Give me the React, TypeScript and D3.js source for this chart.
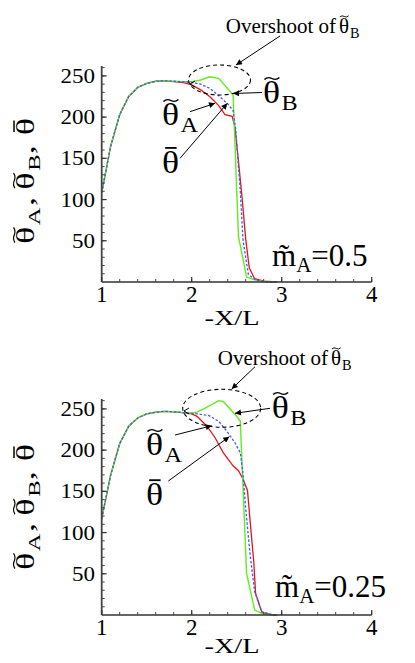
import * as d3 from "d3";

type Pt = [number, number];

// x = -X/L, y = temperature
const xTicks = [1, 2, 3, 4];
const yTicks = [50, 100, 150, 200, 250];

// upper panel, m_A = 0.5
const topThetaA: Pt[] = [
  [1.0, 108], [1.1, 165], [1.2, 203], [1.3, 225], [1.4, 236], [1.5, 241], [1.6, 243.5],
  [1.7, 244], [1.8, 243], [1.9, 242], [2.0, 239], [2.1, 233], [2.2, 225], [2.3, 214],
  [2.37, 203], [2.45, 201], [2.48, 188], [2.52, 146], [2.56, 102], [2.6, 52], [2.64, 17],
  [2.7, 4], [2.8, 1], [2.95, 0],
];
const topThetaB: Pt[] = [
  [1.0, 108], [1.1, 165], [1.2, 203], [1.3, 225], [1.4, 236], [1.5, 241], [1.6, 243.5],
  [1.7, 244], [1.8, 243.5], [1.9, 243], [2.0, 243], [2.1, 245], [2.2, 249], [2.3, 247],
  [2.46, 227], [2.52, 55], [2.61, 6], [2.72, 2], [2.85, 0], [2.95, 0],
];
const topThetaBar: Pt[] = [
  [1.0, 108], [1.1, 165], [1.2, 203], [1.3, 225], [1.4, 236], [1.5, 241], [1.6, 243.5],
  [1.7, 244], [1.8, 243.5], [1.9, 243], [2.0, 242], [2.1, 240], [2.2, 235], [2.3, 226],
  [2.4, 216], [2.46, 208], [2.49, 184], [2.54, 110], [2.57, 51], [2.63, 9], [2.72, 2],
  [2.85, 0], [2.95, 0],
];

// lower panel, m_A = 0.25
const botThetaA: Pt[] = [
  [1.0, 117], [1.1, 170], [1.2, 208], [1.3, 229], [1.4, 239], [1.5, 244], [1.6, 246],
  [1.7, 247], [1.8, 246.5], [1.9, 245.5], [2.0, 244], [2.06, 241], [2.17, 229], [2.26, 215],
  [2.35, 197], [2.46, 181], [2.52, 175], [2.57, 165], [2.62, 151], [2.65, 113], [2.69, 64],
  [2.71, 26], [2.78, 3], [2.9, 0], [2.95, 0],
];
const botThetaB: Pt[] = [
  [1.0, 117], [1.1, 170], [1.2, 208], [1.3, 229], [1.4, 239], [1.5, 244], [1.6, 246],
  [1.7, 247], [1.8, 246.5], [1.9, 245.5], [2.0, 245], [2.06, 246], [2.15, 251], [2.3, 260],
  [2.35, 259], [2.5, 241], [2.54, 235], [2.61, 50], [2.7, 6], [2.8, 1], [2.9, 0], [2.95, 0],
];
const botThetaBar: Pt[] = [
  [1.0, 117], [1.1, 170], [1.2, 208], [1.3, 229], [1.4, 239], [1.5, 244], [1.6, 246],
  [1.7, 247], [1.8, 246.5], [1.9, 245.5], [2.0, 244.5], [2.06, 244], [2.19, 242], [2.3, 235],
  [2.39, 223], [2.48, 209], [2.54, 197], [2.57, 171], [2.6, 129], [2.65, 72], [2.7, 28],
  [2.78, 4], [2.9, 0], [2.95, 0],
];

const serif = "'Liberation Serif', 'Times New Roman', serif";
const RED = "#e3161b";
const GREEN = "#62ec1c";
const BLUE = "#3b5bff";

// theta with a drawn accent (tilde / bar) and an optional subscript, in local em units
function Theta({ fs, accent, sub, x = 0 }: { fs: number; accent: "tilde" | "bar"; sub?: string; x?: number }) {
  const w = 0.5 * fs;
  const ay = -0.8 * fs;
  const acc =
    accent === "tilde" ? (
      <path
        d={`M${x + w * 0.08},${ay + fs * 0.04} q${w * 0.2},${-fs * 0.1} ${w * 0.42},${-fs * 0.03} t${w * 0.42},${-fs * 0.03}`}
        fill="none" stroke="#000" strokeWidth={fs * 0.045} />
    ) : (
      <line x1={x + w * 0.18} x2={x + w * 0.82} y1={ay} y2={ay} stroke="#000" strokeWidth={fs * 0.06} />
    );
  return (
    <g>
      <text x={x} y={0} fontSize={fs}>θ</text>
      {acc}
      {sub && <text x={x + w + 0.02 * fs} y={fs * 0.24} fontSize={fs * 0.68}>{sub}</text>}
    </g>
  );
}

type Ann = {
  top: number;
  mLabel: string;
  mPos: Pt;
  yLabelY: number;
  xLabelDy: number;
  over: Pt;
  overArrow: [Pt, Pt];
  ell: [number, number, number, number];
  bPos: Pt;
  bArrow: [Pt, Pt];
  aPos: Pt;
  aArrow: [Pt, Pt];
  barPos: Pt;
  barArrow: [Pt, Pt];
  nick: Pt;
};

const topAnn: Ann = {
  top: 66,
  mLabel: "0.5",
  mPos: [272, 266],
  yLabelY: 177,
  xLabelDy: 43,
  over: [336, 33],
  overArrow: [[280, 36], [236, 65]],
  ell: [219.5, 80, 31, 15],
  bPos: [263, 103],
  bArrow: [[262, 92.5], [233, 93.5]],
  aPos: [162, 125],
  aArrow: [[190, 111.7], [215, 103.3]],
  barPos: [162, 172.7],
  barArrow: [[180, 158.3], [227.3, 103.3]],
  nick: [190, 84],
};

const botAnn: Ann = {
  top: 399,
  mLabel: "0.25",
  mPos: [275, 596.7],
  yLabelY: 503,
  xLabelDy: 38,
  over: [328, 365],
  overArrow: [[255, 366.7], [231.7, 389]],
  ell: [221.7, 408.3, 39, 19],
  bPos: [271.7, 418],
  bArrow: [[270, 408.3], [235, 413.3]],
  aPos: [146, 455],
  aArrow: [[175, 435], [211.7, 425.7]],
  barPos: [146, 505],
  barArrow: [[168.3, 481], [229.3, 436.7]],
  nick: [184, 411],
};

function Panel({ ann, a, b, bar, id }: { ann: Ann; a: Pt[]; b: Pt[]; bar: Pt[]; id: string }) {
  const x = d3.scaleLinear().domain([1, 4]).range([101.7, 371.7]);
  const y = d3.scaleLinear().domain([0, 262]).range([ann.top + 216, ann.top]);
  const line = d3.line<Pt>().x((d) => x(d[0])).y((d) => y(d[1]));
  const x0 = x(1);
  const y0 = y(0);
  const xMinor = d3.range(1, 4.001, 0.2);
  const yMinor = d3.range(10, 261, 10);
  const marker = `url(#arr-${id})`;
  const arrow = (p: [Pt, Pt]) => (
    <line x1={p[0][0]} y1={p[0][1]} x2={p[1][0]} y2={p[1][1]} stroke="#000" strokeWidth={1} markerEnd={marker} />
  );
  const yfs = 25;

  return (
    <g fontFamily={serif}>
      <defs>
        <marker id={`arr-${id}`} viewBox="0 0 10 10" refX={10} refY={5} markerWidth={9} markerHeight={6}
          markerUnits="userSpaceOnUse" orient="auto">
          <path d="M0,0 L10,5 L0,10 z" fill="#000" />
        </marker>
      </defs>

      {/* curves */}
      <path d={line(a) ?? ""} fill="none" stroke={RED} strokeWidth={1.3} />
      <path d={line(b) ?? ""} fill="none" stroke={GREEN} strokeWidth={1.4} />
      <path d={line(bar) ?? ""} fill="none" stroke={BLUE} strokeWidth={1.3} strokeDasharray="2.5,1.8" />

      {/* axes */}
      <line x1={x0} y1={y0} x2={x(4)} y2={y0} stroke="#333" strokeWidth={1.4} />
      <line x1={x0} y1={y0} x2={x0} y2={y(262)} stroke="#444" strokeWidth={1.8} />
      {xMinor.map((t) => (
        <line key={"xm" + t} x1={x(t)} x2={x(t)} y1={y0} y2={y0 - 3} stroke="#444" strokeWidth={1} />
      ))}
      {xTicks.map((t) => (
        <g key={"x" + t}>
          <line x1={x(t)} x2={x(t)} y1={y0} y2={y0 - 5} stroke="#333" strokeWidth={1.2} />
          <text x={x(t)} y={y0 + 20} textAnchor="middle" fontSize={23}>{t}</text>
        </g>
      ))}
      {yMinor.map((t) => (
        <line key={"ym" + t} x1={x0} x2={x0 + 3} y1={y(t)} y2={y(t)} stroke="#444" strokeWidth={1} />
      ))}
      {yTicks.map((t) => (
        <g key={"y" + t}>
          <line x1={x0} x2={x0 + 5} y1={y(t)} y2={y(t)} stroke="#333" strokeWidth={1.2} />
          <text transform={`translate(95,${y(t) + 7}) scale(1.15,1)`} textAnchor="end" fontSize={20}>{t}</text>
        </g>
      ))}

      {/* axis titles */}
      <text transform={`translate(232,${y0 + ann.xLabelDy}) scale(1.35,1)`} textAnchor="middle" fontSize={21}>-X/L</text>
      <g transform={`translate(34,${ann.yLabelY}) rotate(-90) scale(1.45,1) translate(${-1.85 * yfs},0)`}>
        <Theta fs={yfs} accent="tilde" sub="A" />
        <text x={1.05 * yfs} y={0} fontSize={yfs}>,</text>
        <Theta fs={yfs} accent="tilde" sub="B" x={1.5 * yfs} />
        <text x={2.48 * yfs} y={0} fontSize={yfs}>,</text>
        <Theta fs={yfs} accent="bar" x={3.0 * yfs} />
      </g>

      {/* annotations */}
      <text x={ann.over[0]} y={ann.over[1]} fontSize={21} textAnchor="end">Overshoot of</text>
      <g transform={`translate(${ann.over[0] + 3},${ann.over[1]})`}>
        <Theta fs={21} accent="tilde" sub="B" />
      </g>
      {arrow(ann.overArrow)}
      <ellipse cx={ann.ell[0]} cy={ann.ell[1]} rx={ann.ell[2]} ry={ann.ell[3]} fill="none" stroke="#000"
        strokeWidth={1.1} strokeDasharray="4,3" />
      <path d={`M${ann.nick[0] + 5},${ann.nick[1] - 3} L${ann.nick[0]},${ann.nick[1]} L${ann.nick[0] + 5},${ann.nick[1] + 3}`}
        fill="none" stroke="#000" strokeWidth={1} />

      <g transform={`translate(${ann.bPos[0]},${ann.bPos[1]}) scale(1.15,1)`}>
        <Theta fs={31} accent="tilde" sub="B" />
      </g>
      {arrow(ann.bArrow)}
      <g transform={`translate(${ann.aPos[0]},${ann.aPos[1]}) scale(1.15,1)`}>
        <Theta fs={31} accent="tilde" sub="A" />
      </g>
      {arrow(ann.aArrow)}
      <g transform={`translate(${ann.barPos[0]},${ann.barPos[1]}) scale(1.15,1)`}>
        <Theta fs={31} accent="bar" />
      </g>
      {arrow(ann.barArrow)}

      <text x={ann.mPos[0]} y={ann.mPos[1]} fontSize={31}>
        m̃<tspan fontSize={21} dy={6}>A</tspan><tspan dy={-6}>={ann.mLabel}</tspan>
      </text>
    </g>
  );
}

export default function App() {
  return (
    <svg width={415} height={663} style={{ display: "block", margin: "-8px", background: "#fff" }}>
      <rect width={415} height={663} fill="#fff" />
      <Panel id="t" ann={topAnn} a={topThetaA} b={topThetaB} bar={topThetaBar} />
      <Panel id="b" ann={botAnn} a={botThetaA} b={botThetaB} bar={botThetaBar} />
    </svg>
  );
}
